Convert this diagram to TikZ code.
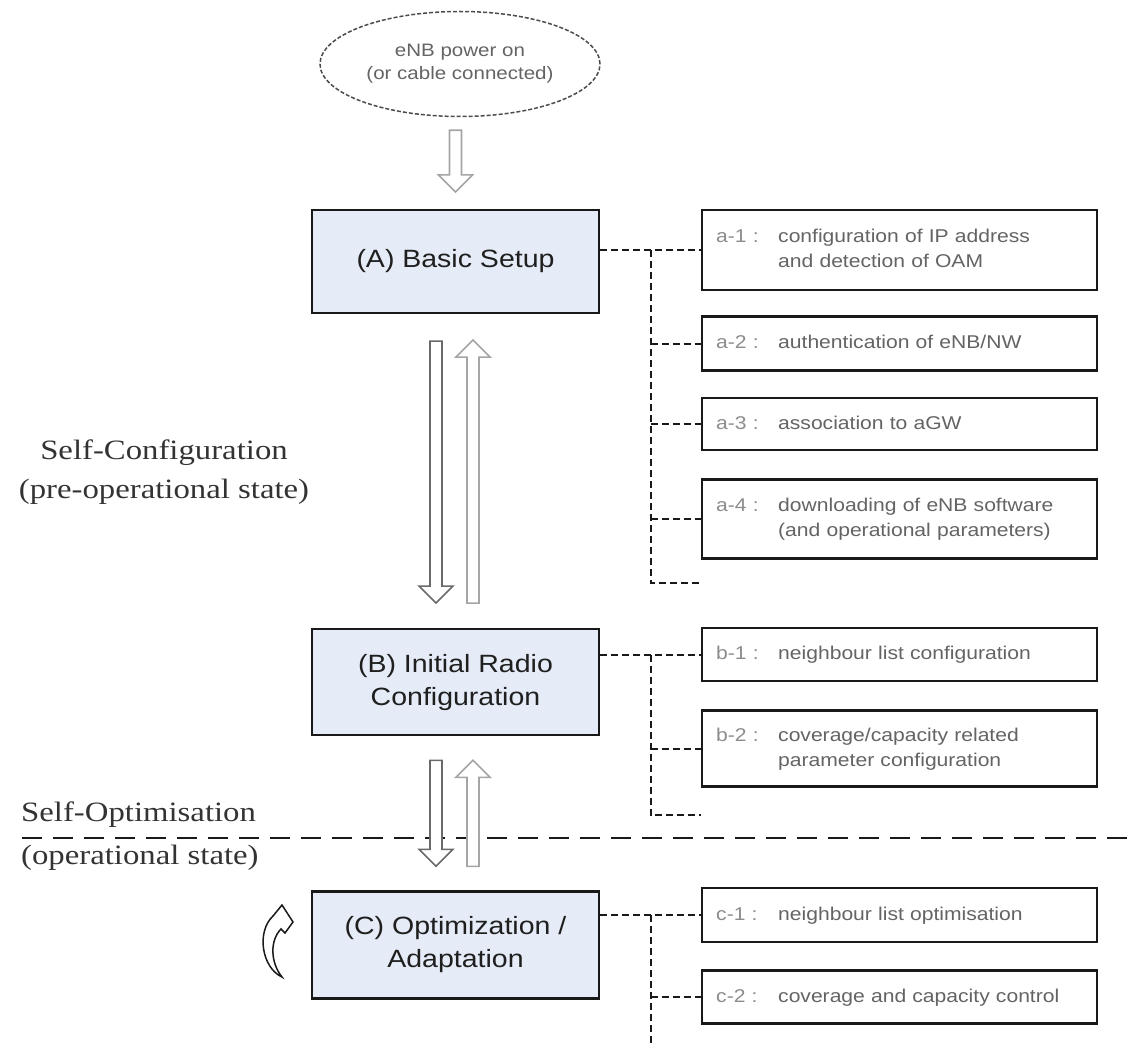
\documentclass[tikz,border=0pt]{standalone}
\usepackage{fontspec}
\setmainfont{Liberation Serif}[FakeStretch=1.17]
\newfontfamily\boxfont{Liberation Sans}[FakeStretch=1.14]
\usetikzlibrary{positioning,calc,shapes.geometric}
\definecolor{boxblue}  {RGB}{230,236,247}
\definecolor{lineblack}{RGB}{ 25, 25, 25}
\definecolor{txtgray}  {RGB}{100,100,100}
\definecolor{lblgray}  {RGB}{140,140,140}
\definecolor{arrdark}  {RGB}{105,105,105}
\definecolor{arrlight} {RGB}{165,165,165}
\newcommand{\sublbl}[2]{\begin{tabular}{@{}p{62pt}@{}l@{}}\textcolor{lblgray}{#1} & #2\end{tabular}}
\tikzset{
  phase/.style={draw=lineblack,fill=boxblue,line width=2.2pt,
                minimum width=287pt,inner sep=0pt,align=center,
                font=\boxfont\fontsize{25}{33}\selectfont,text=black!88},
  subbox/.style={draw=lineblack,fill=white,line width=2.4pt,
                 text width=367pt,inner xsep=14pt,inner ysep=0pt,align=left,
                 font=\boxfont\fontsize{18.5}{25}\selectfont,text=txtgray},
  startell/.style={ellipse,draw=black!70,line width=1.5pt,
                   dash pattern=on 4pt off 2pt,fill=white,
                   minimum width=280pt,minimum height=105pt,inner sep=0pt,
                   align=center,font=\boxfont\fontsize{18}{23}\selectfont,
                   text=txtgray},
  statelbl/.style={inner sep=0pt,align=center,
                   font=\fontsize{28}{39}\selectfont,text=black!80},
  link/.style={line width=2pt,dash pattern=on 7pt off 4pt,color=lineblack},
  hollow/.style={fill=white,line width=1.6pt,line join=miter,
    to path={let \p1=($(\tikztotarget)!17pt!(\tikztostart)$) in
      ($(\tikztostart)!6pt!90:(\tikztotarget)$)
      -- ($(\p1)!6pt!90:(\tikztotarget)$)
      -- ($(\p1)!17pt!90:(\tikztotarget)$)
      -- (\tikztotarget)
      -- ($(\p1)!17pt!-90:(\tikztotarget)$)
      -- ($(\p1)!6pt!-90:(\tikztotarget)$)
      -- ($(\tikztostart)!6pt!-90:(\tikztotarget)$) -- cycle}},
}
\begin{document}
\begin{tikzpicture}[x=1pt,y=-1pt]
  \useasboundingbox (0,0) rectangle (1130,1043);

  % start event
  \node[startell] (pwr) at (460,64) {eNB power on\\(or cable connected)};

  % phases
  \node[phase,minimum height=103pt] (A) at (455.5,261.5) {(A) Basic Setup};
  \node[phase,minimum height=106pt,below=314pt of A] (B) {(B) Initial Radio\\Configuration};
  \node[phase,minimum height=107pt,below=154pt of B] (C) {(C) Optimization /\\Adaptation};

  % sub steps of (A)
  \node[subbox,minimum height=80pt,anchor=north west] (a1) at (701,209)
    {\sublbl{a-1 :}{configuration of IP address\\ & and detection of OAM}};
  \node[subbox,minimum height=54pt,below=24pt of a1] (a2) {\sublbl{a-2 :}{authentication of eNB/NW}};
  \node[subbox,minimum height=52pt,below=25pt of a2] (a3) {\sublbl{a-3 :}{association to aGW}};
  \node[subbox,minimum height=79pt,below=27pt of a3] (a4)
    {\sublbl{a-4 :}{downloading of eNB software\\ & (and operational parameters)}};
  % sub steps of (B)
  \node[subbox,minimum height=53pt,anchor=north west] (b1) at (701,627)
    {\sublbl{b-1 :}{neighbour list configuration}};
  \node[subbox,minimum height=76pt,below=27pt of b1] (b2)
    {\sublbl{b-2 :}{coverage/capacity related\\ & parameter configuration}};
  % sub steps of (C)
  \node[subbox,minimum height=54pt,anchor=north west] (c1) at (701,887)
    {\sublbl{c-1 :}{neighbour list optimisation}};
  \node[subbox,minimum height=53pt,below=26pt of c1] (c2)
    {\sublbl{c-2 :}{coverage and capacity control}};

  % state labels
  \node[statelbl] (selfconf) at (164,472) {Self-Configuration\\(pre-operational state)};
  \node[statelbl,anchor=west] (selfopt) at (21,815) {Self-Optimisation};
  \node[statelbl,anchor=west] (opstate) at (21,858) {(operational state)};

  % separator
  \coordinate (sepL) at (22,838);
  \coordinate (sepR) at (1130,838);
  \draw[line width=2.2pt,dash pattern=on 20pt off 11pt,color=lineblack] (sepL) -- (sepR);

  % tree connectors
  \coordinate (tA) at ($(A.east)!0.5!(a1.west)$);
  \coordinate (endA) at ($(a4.south west)+(0,23)$);
  \draw[link] (A.east |- a1.west) -- (a1.west);
  \draw[link] (tA |- a1.west) -- (tA |- endA) -- (endA);
  \foreach \s in {a2,a3,a4}
    \draw[link] (tA |- \s.west) -- (\s.west);

  \coordinate (tB) at ($(B.east)!0.5!(b1.west)$);
  \coordinate (endB) at ($(b2.south west)+(0,27)$);
  \draw[link] (B.east |- b1.west) -- (b1.west);
  \draw[link] (tB |- b1.west) -- (tB |- endB) -- (endB);
  \draw[link] (tB |- b2.west) -- (b2.west);

  \coordinate (tC) at ($(C.east)!0.5!(c1.west)$);
  \coordinate (endC) at ($(c2.south west)+(0,24)$);
  \draw[link] (C.east |- c1.west) -- (c1.west);
  \draw[link] (tC |- c1.west) -- (tC |- endC) -- (endC);
  \draw[link] (tC |- c2.west) -- (c2.west);

  % hollow arrows
  \coordinate (pwrTail) at ($(A.north |- pwr.south)+(0,13)$);
  \coordinate (pwrTip)  at ($(A.north)+(0,-17)$);
  \draw[hollow,draw=arrlight] (pwrTail) to (pwrTip);

  \coordinate (abDownTail) at ($(A.south)+(-19.5,27)$);
  \coordinate (abDownTip)  at ($(B.north)+(-19.5,-25)$);
  \coordinate (abUpTail)   at ($(B.north)+(17.5,-25)$);
  \coordinate (abUpTip)    at ($(A.south)+(17.5,26)$);
  \draw[hollow,draw=arrdark]  (abDownTail) to (abDownTip);
  \draw[hollow,draw=arrlight] (abUpTail) to (abUpTip);

  \coordinate (bcDownTail) at ($(B.south)+(-19.5,24)$);
  \coordinate (bcDownTip)  at ($(C.north)+(-19.5,-24)$);
  \coordinate (bcUpTail)   at ($(C.north)+(17.5,-24)$);
  \coordinate (bcUpTip)    at ($(B.south)+(17.5,24)$);
  \draw[hollow,draw=arrdark]  (bcDownTail) to (bcDownTip);
  \draw[hollow,draw=arrlight] (bcUpTail) to (bcUpTip);

  % loop arrow beside (C)
  \draw[fill=white,draw=lineblack,line width=1.5pt,line join=miter]
    (282,977) .. controls (262,968) and (256,932) .. (273,916)
    -- (282,905) -- (293,922) -- (285,933) -- (281,929)
    .. controls (270,940) and (270,962) .. (282,977) -- cycle;
\end{tikzpicture}
\end{document}
